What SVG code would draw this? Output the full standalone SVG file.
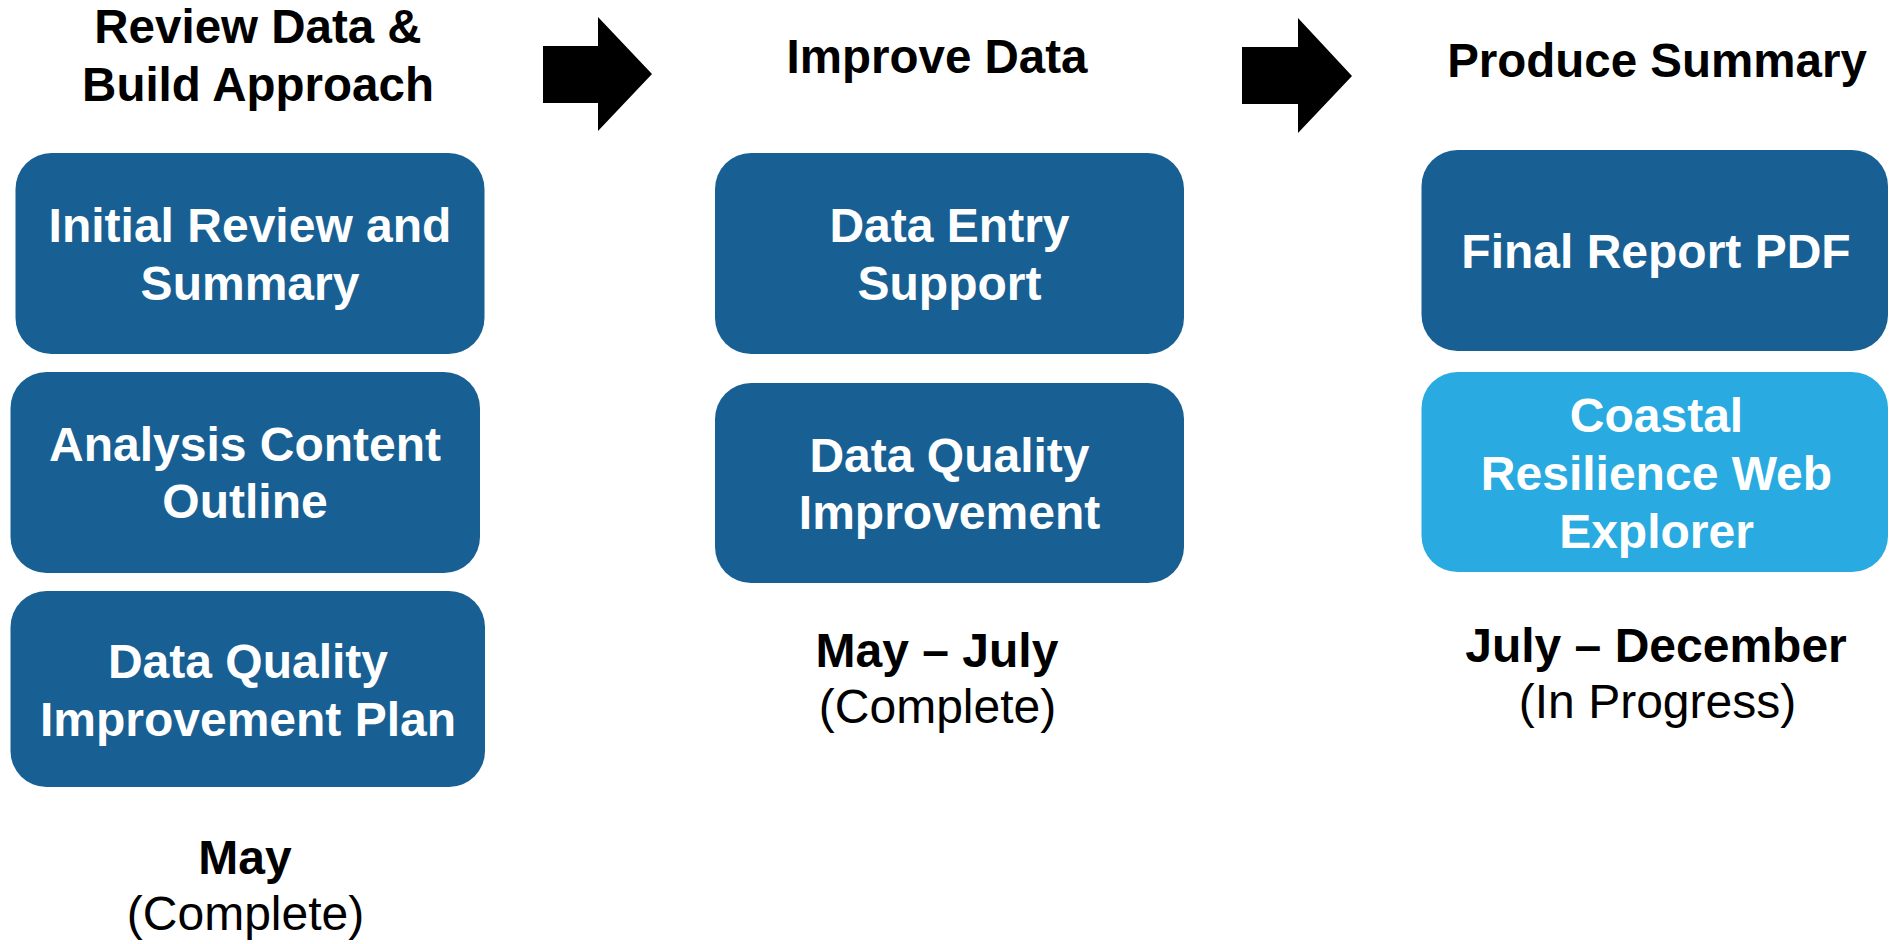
<svg xmlns="http://www.w3.org/2000/svg" width="1890" height="944" viewBox="0 0 1890 944">
<style>
.box{fill:#186094;}
.box2{fill:#29ABE2;}
.bt{font-family:"Liberation Sans",Arial,sans-serif;font-weight:bold;font-size:48px;fill:#ffffff;text-anchor:middle;}
.tt{font-family:"Liberation Sans",Arial,sans-serif;font-weight:bold;font-size:47.5px;fill:#000000;text-anchor:middle;}
.lb{font-family:"Liberation Sans",Arial,sans-serif;font-weight:bold;font-size:48px;fill:#000000;text-anchor:middle;}
.lr{font-family:"Liberation Sans",Arial,sans-serif;font-size:48px;fill:#000000;text-anchor:middle;}
.arr{fill:#000000;}
</style>
<rect width="1890" height="944" fill="#ffffff"/>
<g id="title-review">
<text class="tt" x="258" y="43">Review Data &amp;</text>
<text class="tt" x="258" y="101">Build Approach</text>
</g>
<g id="title-improve">
<text class="tt" x="937" y="73">Improve Data</text>
</g>
<g id="title-produce">
<text class="tt" x="1657" y="77">Produce Summary</text>
</g>
<g id="connectors">
<polygon class="arr" points="543,46 598,46 598,17 652,74 598,131 598,103 543,103"/>
<polygon class="arr" points="1242,47 1298,47 1298,18 1352,76 1298,133 1298,104 1242,104"/>
</g>
<g id="node-initial-review">
<rect class="box" x="15.5" y="153" width="469" height="201" rx="36" ry="36"/>
<text class="bt" x="250" y="242">Initial Review and</text>
<text class="bt" x="250" y="300">Summary</text>
</g>
<g id="node-analysis-outline">
<rect class="box" x="10.5" y="372" width="469.5" height="201" rx="36" ry="36"/>
<text class="bt" x="245" y="461">Analysis Content</text>
<text class="bt" x="245" y="518">Outline</text>
</g>
<g id="node-dq-plan">
<rect class="box" x="10.5" y="591" width="474.5" height="196" rx="36" ry="36"/>
<text class="bt" x="248" y="678">Data Quality</text>
<text class="bt" x="248" y="736">Improvement Plan</text>
</g>
<g id="node-data-entry">
<rect class="box" x="715" y="153" width="469" height="201" rx="36" ry="36"/>
<text class="bt" x="949.5" y="242">Data Entry</text>
<text class="bt" x="949.5" y="300">Support</text>
</g>
<g id="node-dq-improvement">
<rect class="box" x="715" y="383" width="469" height="200" rx="36" ry="36"/>
<text class="bt" x="949.5" y="472">Data Quality</text>
<text class="bt" x="949.5" y="529">Improvement</text>
</g>
<g id="node-final-report">
<rect class="box" x="1421.5" y="150" width="466.5" height="201" rx="36" ry="36"/>
<text class="bt" x="1656" y="268">Final Report PDF</text>
</g>
<g id="node-web-explorer">
<rect class="box2" x="1421.5" y="372" width="466.5" height="200" rx="36" ry="36"/>
<text class="bt" x="1656.5" y="432">Coastal</text>
<text class="bt" x="1656.5" y="490">Resilience Web</text>
<text class="bt" x="1656.5" y="548">Explorer</text>
</g>
<g id="label-may">
<text class="lb" x="245" y="874">May</text>
<text class="lr" x="245.5" y="930">(Complete)</text>
</g>
<g id="label-may-july">
<text class="lb" x="937" y="667">May – July</text>
<text class="lr" x="937.5" y="723">(Complete)</text>
</g>
<g id="label-july-dec">
<text class="lb" x="1656" y="662">July – December</text>
<text class="lr" x="1657.5" y="718">(In Progress)</text>
</g>
</svg>
